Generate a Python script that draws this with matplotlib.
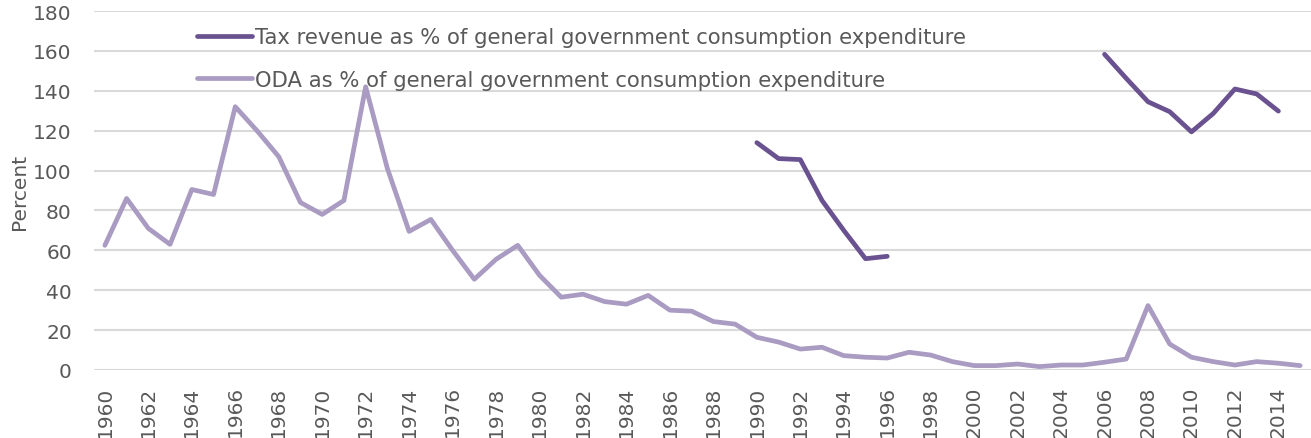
import numpy as np
import matplotlib.pyplot as plt

years = list(range(1960, 2016))

oda_pct = [62.5, 86, 71, 63, 90.5, 88, 132, 120, 107, 84,
           78, 85, 142, 101, 69.5, 75.5, 60, 45.5, 55.5, 62.5,
           47.5, 36.5, 38, 34.3, 33, 37.4, 30, 29.5, 24.3, 23,
           16.4, 14, 10.5, 11.4, 7.2, 6.4, 6, 8.9, 7.5, 4.2,
           2.2, 2.2, 3, 1.7, 2.5, 2.5, 3.9, 5.5, 32.3, 13,
           6.4, 4.2, 2.5, 4.2, 3.4, 2.2]

# tax revenue only available for some years (gaps = None)
tax_pct = [None] * 30 + [114, 106, 105.5, 85, 70, 55.8, 57] + [None] * 9 + \
          [158.3, 146.2, 134.5, 129.5, 119.4, 128.6, 140.9, 138.4, 129.8, None]

tax_label = "Tax revenue as % of general government consumption expenditure"
oda_label = "ODA as % of general government consumption expenditure"

TAX_COLOR = "#6a5290"
ODA_COLOR = "#a99bc1"
TEXT_COLOR = "#595959"

fig = plt.figure(figsize=(13.11, 4.39), dpi=100)
ax = fig.add_axes([94 / 1311, 1 - 371 / 439, 1 - 94 / 1311, (371 - 12) / 439])

tax = np.array([np.nan if v is None else v for v in tax_pct], dtype=float)
ax.plot(years, tax, color=TAX_COLOR, lw=3.4, solid_capstyle="round", label=tax_label)
ax.plot(years, oda_pct, color=ODA_COLOR, lw=3.4, solid_capstyle="round", label=oda_label)

ax.set_xlim(1959.5, 2015.5)
ax.set_ylim(0, 180)
ax.set_yticks(np.arange(0, 181, 20))
ax.set_xticks(years[::2])
ax.set_xticklabels([str(y) for y in years[::2]], rotation=90)
ax.grid(axis="y", color="#d9d9d9", lw=1.5)
ax.set_axisbelow(True)
for s in ax.spines.values():
    s.set_visible(False)
ax.tick_params(axis="y", length=0, labelsize=14.5, colors=TEXT_COLOR, pad=16)
ax.tick_params(axis="x", length=0, labelsize=14.5, colors=TEXT_COLOR, pad=11)
ax.set_ylabel("Percent", fontsize=14.5, color=TEXT_COLOR, labelpad=3)

leg = ax.legend(loc="upper left", bbox_to_anchor=(0.078, 0.978), frameon=False,
                fontsize=15.2, handlelength=2.6, handletextpad=0.15,
                labelspacing=1.05, borderaxespad=0)
for t in leg.get_texts():
    t.set_color(TEXT_COLOR)

fig.savefig("out.png", dpi=100)
